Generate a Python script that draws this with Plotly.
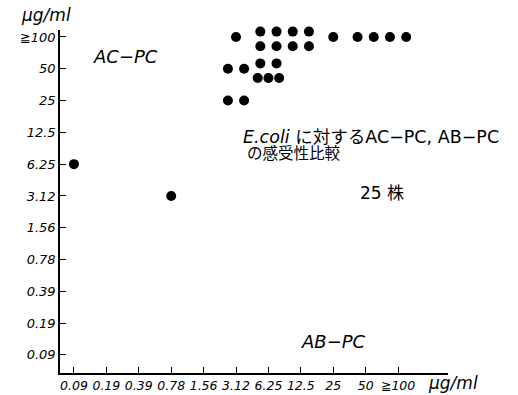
import plotly.graph_objects as go
from collections import OrderedDict

# MIC levels (µg/ml), shared by both axes
mic_levels = ["0.09", "0.19", "0.39", "0.78", "1.56", "3.12", "6.25", "12.5", "25", "50", "≧100"]

# One entry per strain (25 strains): AB-PC MIC (x) and AC-PC MIC (y)
ab_pc = ["0.09", "0.78",
         "3.12", "3.12", "3.12", "3.12", "3.12",
         "6.25", "6.25", "6.25", "6.25",
         "12.5", "12.5", "12.5", "12.5",
         "6.25", "6.25", "6.25", "6.25", "6.25",
         "25", "50", "50", "≧100", "≧100"]
ac_pc = ["6.25", "3.12",
         "≧100", "50", "50", "25", "25",
         "≧100", "≧100", "≧100", "≧100",
         "≧100", "≧100", "≧100", "≧100",
         "50", "50", "50", "50", "50",
         "≧100", "≧100", "≧100", "≧100", "≧100"]

idx = {v: i for i, v in enumerate(mic_levels)}

# group strains per cell, then arrange dots of a cell in a small cluster
cells = OrderedDict()
for a, c in zip(ab_pc, ac_pc):
    cells[(a, c)] = cells.get((a, c), 0) + 1

xs, ys = [], []
for (a, c), n in cells.items():
    cx, cy = idx[a], idx[c]
    rows = [n] if n <= 2 else [n // 2, n - n // 2]
    row_dy = [0.0] if len(rows) == 1 else [0.17, -0.29]
    for k, dy in zip(rows, row_dy):
        sp = 0.5 if k <= 2 else 0.33
        for j in range(k):
            xs.append(cx + (j - (k - 1) / 2) * sp)
            ys.append(cy + dy)

fig = go.Figure()
fig.add_trace(go.Scatter(
    x=xs, y=ys, mode="markers", cliponaxis=False,
    marker=dict(size=10, color="black"),
    hoverinfo="skip", showlegend=False,
))

axis_common = dict(
    showgrid=False, zeroline=False, showline=True, linecolor="black", linewidth=1.5,
    ticks="inside", ticklen=6, tickwidth=1.2, tickcolor="black",
    tickmode="array", tickvals=list(range(len(mic_levels))), ticktext=mic_levels,
    automargin=False,
)
fig.update_xaxes(range=[-0.43, 11.54],
                 tickfont=dict(family="DejaVu Sans", size=12.5, color="black", style="italic"),
                 **axis_common)
fig.update_yaxes(range=[-0.57, 10.22],
                 tickfont=dict(family="DejaVu Sans", size=13, color="black", style="italic"),
                 **axis_common)

FW, FH = 518, 395
L, T, W, H = 60, 30, 388, 343   # plot area in page pixels
def px(x, y):
    return (x - L) / W, (T + H - y) / H

ann_font = dict(family="DejaVu Sans, Noto Sans CJK JP", size=15, color="black")
def add_text(text, x, y, xanchor="center", size=15, style="italic"):
    ax, ay = px(x, y)
    f = dict(ann_font, size=size, style=style)
    fig.add_annotation(text=text, x=ax, y=ay, xref="paper", yref="paper",
                       xanchor=xanchor, yanchor="middle", showarrow=False, font=f,
                       borderpad=0)

add_text("μg/ml", 46, 15, size=17)
add_text("μg/ml", 427, 383, xanchor="left", size=17)
add_text("AC−PC", 125, 56, size=18)
add_text("AB−PC", 333, 341, size=18)
add_text("<i>E.coli</i> に対するAC−PC, AB−PC", 242, 137, xanchor="left", size=17.5, style="normal")
add_text("の感受性比較", 246, 154, xanchor="left", size=15.5, style="normal")
add_text("25 株", 382, 193, size=17, style="normal")

fig.update_layout(
    width=FW, height=FH,
    margin=dict(l=L, r=FW - L - W, t=T, b=FH - T - H),
    plot_bgcolor="white", paper_bgcolor="white",
)

fig.write_html("out.html", config={"displayModeBar": False},
               post_script="document.body.style.margin='0';document.body.style.overflow='hidden';")
